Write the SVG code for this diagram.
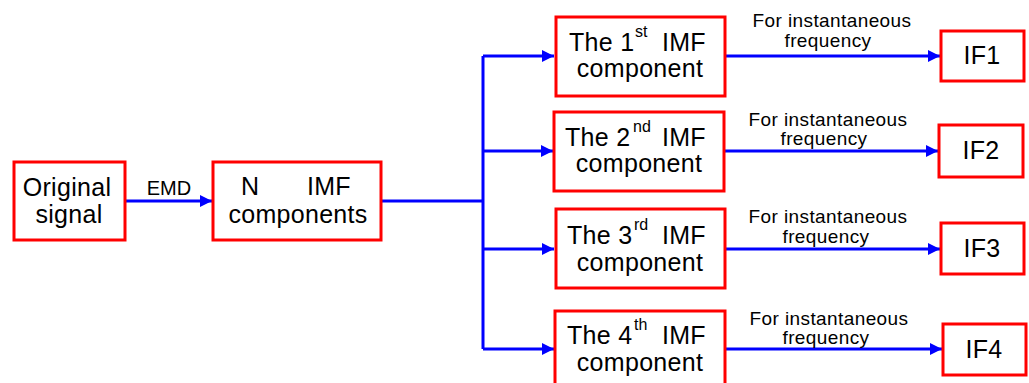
<svg xmlns="http://www.w3.org/2000/svg" width="1029" height="383" viewBox="0 0 1029 383">
<style>
.box{fill:#fff;stroke:#ff0000;stroke-width:3}
.t{font-family:"Liberation Sans",Arial,sans-serif;font-size:25px;letter-spacing:0.3px;fill:#000}
.c{text-anchor:middle}
.sup{font-size:16px;letter-spacing:0}
.lbl{font-family:"Liberation Sans",Arial,sans-serif;font-size:19px;letter-spacing:0.4px;fill:#000;text-anchor:middle}
.ln{fill:none;stroke:#0000ff;stroke-width:3}
</style>
<defs>
<marker id="ah" markerUnits="userSpaceOnUse" markerWidth="14" markerHeight="14" viewBox="0 0 14 14" refX="13" refY="7" orient="auto">
<path d="M1,1 L13,7 L1,13 Z" fill="#0000ff"/>
</marker>
</defs>
<rect width="1029" height="383" fill="#fff"/>
<g id="connectors">
<line class="ln" x1="126" y1="201" x2="212" y2="201" marker-end="url(#ah)"/>
<polyline class="ln" points="381,201 483,201"/>
<line class="ln" x1="483" y1="56" x2="483" y2="349"/>
<line class="ln" x1="483" y1="56" x2="554" y2="56" marker-end="url(#ah)"/>
<line class="ln" x1="483" y1="151" x2="553" y2="151" marker-end="url(#ah)"/>
<line class="ln" x1="483" y1="249" x2="554" y2="249" marker-end="url(#ah)"/>
<line class="ln" x1="483" y1="349" x2="554" y2="349" marker-end="url(#ah)"/>
<line class="ln" x1="725" y1="56" x2="940" y2="56" marker-end="url(#ah)"/>
<line class="ln" x1="724" y1="151" x2="938" y2="151" marker-end="url(#ah)"/>
<line class="ln" x1="725" y1="249" x2="940" y2="249" marker-end="url(#ah)"/>
<line class="ln" x1="725" y1="349" x2="942" y2="349" marker-end="url(#ah)"/>
<text class="lbl" x="169" y="195" style="font-size:20px;letter-spacing:0">EMD</text>
<text class="lbl" x="832" y="27">For instantaneous</text>
<text class="lbl" x="828" y="47">frequency</text>
<text class="lbl" x="828" y="126">For instantaneous</text>
<text class="lbl" x="824" y="145">frequency</text>
<text class="lbl" x="828" y="223">For instantaneous</text>
<text class="lbl" x="826" y="243">frequency</text>
<text class="lbl" x="829" y="325">For instantaneous</text>
<text class="lbl" x="826" y="344">frequency</text>
</g>
<g id="original">
<rect class="box" x="14" y="162" width="111" height="78"/>
<text class="t c" x="67" y="196">Original</text>
<text class="t c" x="69" y="223">signal</text>
</g>
<g id="nimf">
<rect class="box" x="213" y="162" width="168" height="78"/>
<text class="t" x="241" y="195">N</text>
<text class="t" x="307" y="195">IMF</text>
<text class="t c" x="298" y="223">components</text>
</g>
<g id="imf1">
<rect class="box" x="556" y="17" width="169" height="79"/>
<text class="t" x="569" y="51">The 1<tspan class="sup" x="635" y="37">st</tspan><tspan x="662" y="51">IMF</tspan></text>
<text class="t c" x="640" y="77">component</text>
</g>
<g id="imf2">
<rect class="box" x="554" y="112" width="170" height="79"/>
<text class="t" x="565" y="146">The 2<tspan class="sup" x="633" y="132">nd</tspan><tspan x="662" y="146">IMF</tspan></text>
<text class="t c" x="639" y="172">component</text>
</g>
<g id="imf3">
<rect class="box" x="556" y="209" width="169" height="79"/>
<text class="t" x="567" y="244">The 3<tspan class="sup" x="634" y="230">rd</tspan><tspan x="662" y="244">IMF</tspan></text>
<text class="t c" x="640" y="271">component</text>
</g>
<g id="imf4">
<rect class="box" x="555" y="311" width="170" height="79"/>
<text class="t" x="567" y="344">The 4<tspan class="sup" x="634" y="330">th</tspan><tspan x="662" y="344">IMF</tspan></text>
<text class="t c" x="640" y="371">component</text>
</g>
<g id="if1">
<rect class="box" x="941" y="31" width="83" height="50"/>
<text class="t c" x="982" y="64">IF1</text>
</g>
<g id="if2">
<rect class="box" x="939" y="125" width="84" height="52"/>
<text class="t c" x="981" y="159">IF2</text>
</g>
<g id="if3">
<rect class="box" x="941" y="223" width="83" height="51"/>
<text class="t c" x="982" y="257">IF3</text>
</g>
<g id="if4">
<rect class="box" x="943" y="324" width="83" height="51"/>
<text class="t c" x="984" y="358">IF4</text>
</g>
</svg>
